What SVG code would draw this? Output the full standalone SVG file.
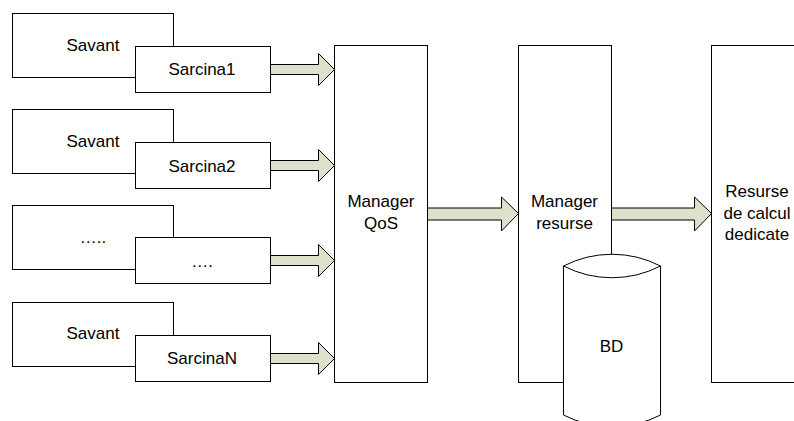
<svg xmlns="http://www.w3.org/2000/svg" width="794" height="421" viewBox="0 0 794 421">
<style>
.box{fill:#fff;stroke:#000;stroke-width:1}
.arr{fill:#dde1cb;stroke:#000;stroke-width:1;stroke-linejoin:miter}
text{font-family:"Liberation Sans",Arial,sans-serif;font-size:17px;fill:#000;text-anchor:middle}
</style>
<rect width="794" height="421" fill="#fff"/>
<g id="savant1"><rect class="box" x="12.5" y="13.5" width="161" height="64"/><text x="93" y="51">Savant</text></g>
<g id="sarcina1"><rect class="box" x="135.5" y="46.5" width="135" height="46"/><text x="202" y="75">Sarcina1</text></g>
<g id="savant2"><rect class="box" x="12.5" y="109.5" width="161" height="64"/><text x="93" y="147">Savant</text></g>
<g id="sarcina2"><rect class="box" x="135.5" y="142.5" width="135" height="46"/><text x="202" y="172">Sarcina2</text></g>
<g id="savant3"><rect class="box" x="12.5" y="205.5" width="161" height="64"/><text x="93" y="243">…..</text></g>
<g id="sarcina3"><rect class="box" x="135.5" y="237.5" width="135" height="46"/><text x="202" y="267">….</text></g>
<g id="savant4"><rect class="box" x="12.5" y="302.5" width="161" height="64"/><text x="93" y="339">Savant</text></g>
<g id="sarcinaN"><rect class="box" x="135.5" y="335.5" width="135" height="46"/><text x="202" y="364">SarcinaN</text></g>
<g id="managerQoS"><rect class="box" x="334.5" y="45.5" width="93" height="337"/><text x="381" y="207">Manager</text><text x="381" y="229">QoS</text></g>
<g id="managerResurse"><rect class="box" x="518.5" y="45.5" width="93" height="337"/><text x="564.5" y="207">Manager</text><text x="564.5" y="229">resurse</text></g>
<g id="resurseCalcul"><rect class="box" x="711.5" y="45.5" width="100" height="337"/><text x="757" y="197">Resurse</text><text x="757" y="218.5">de calcul</text><text x="757" y="240">dedicate</text></g>
<g id="bd">
<path class="box" d="M563.5,266 A106,106 0 0 1 660.5,266 L660.5,415 A106,106 0 0 1 563.5,415 Z"/>
<path d="M563.5,266 A106,106 0 0 0 660.5,266" fill="none" stroke="#000"/>
<text x="611.5" y="352">BD</text>
</g>
<g id="connectors">
<path class="arr" d="M270.5,64.5 H318.5 V53.5 L334.5,69.5 L318.5,85.5 V74.5 H270.5 Z"/>
<path class="arr" d="M270.5,160.5 H318.5 V149.5 L334.5,165.5 L318.5,181.5 V170.5 H270.5 Z"/>
<path class="arr" d="M270.5,255.5 H318.5 V244.5 L334.5,260.5 L318.5,276.5 V265.5 H270.5 Z"/>
<path class="arr" d="M270.5,353.5 H318.5 V342.5 L334.5,358.5 L318.5,374.5 V363.5 H270.5 Z"/>
<path class="arr" d="M427.5,208 H501.5 V197 L518.5,213.5 L501.5,231 V220 H427.5 Z"/>
<path class="arr" d="M611.5,208 H694.5 V197 L711.5,213.5 L694.5,231 V220 H611.5 Z"/>
</g>
</svg>
